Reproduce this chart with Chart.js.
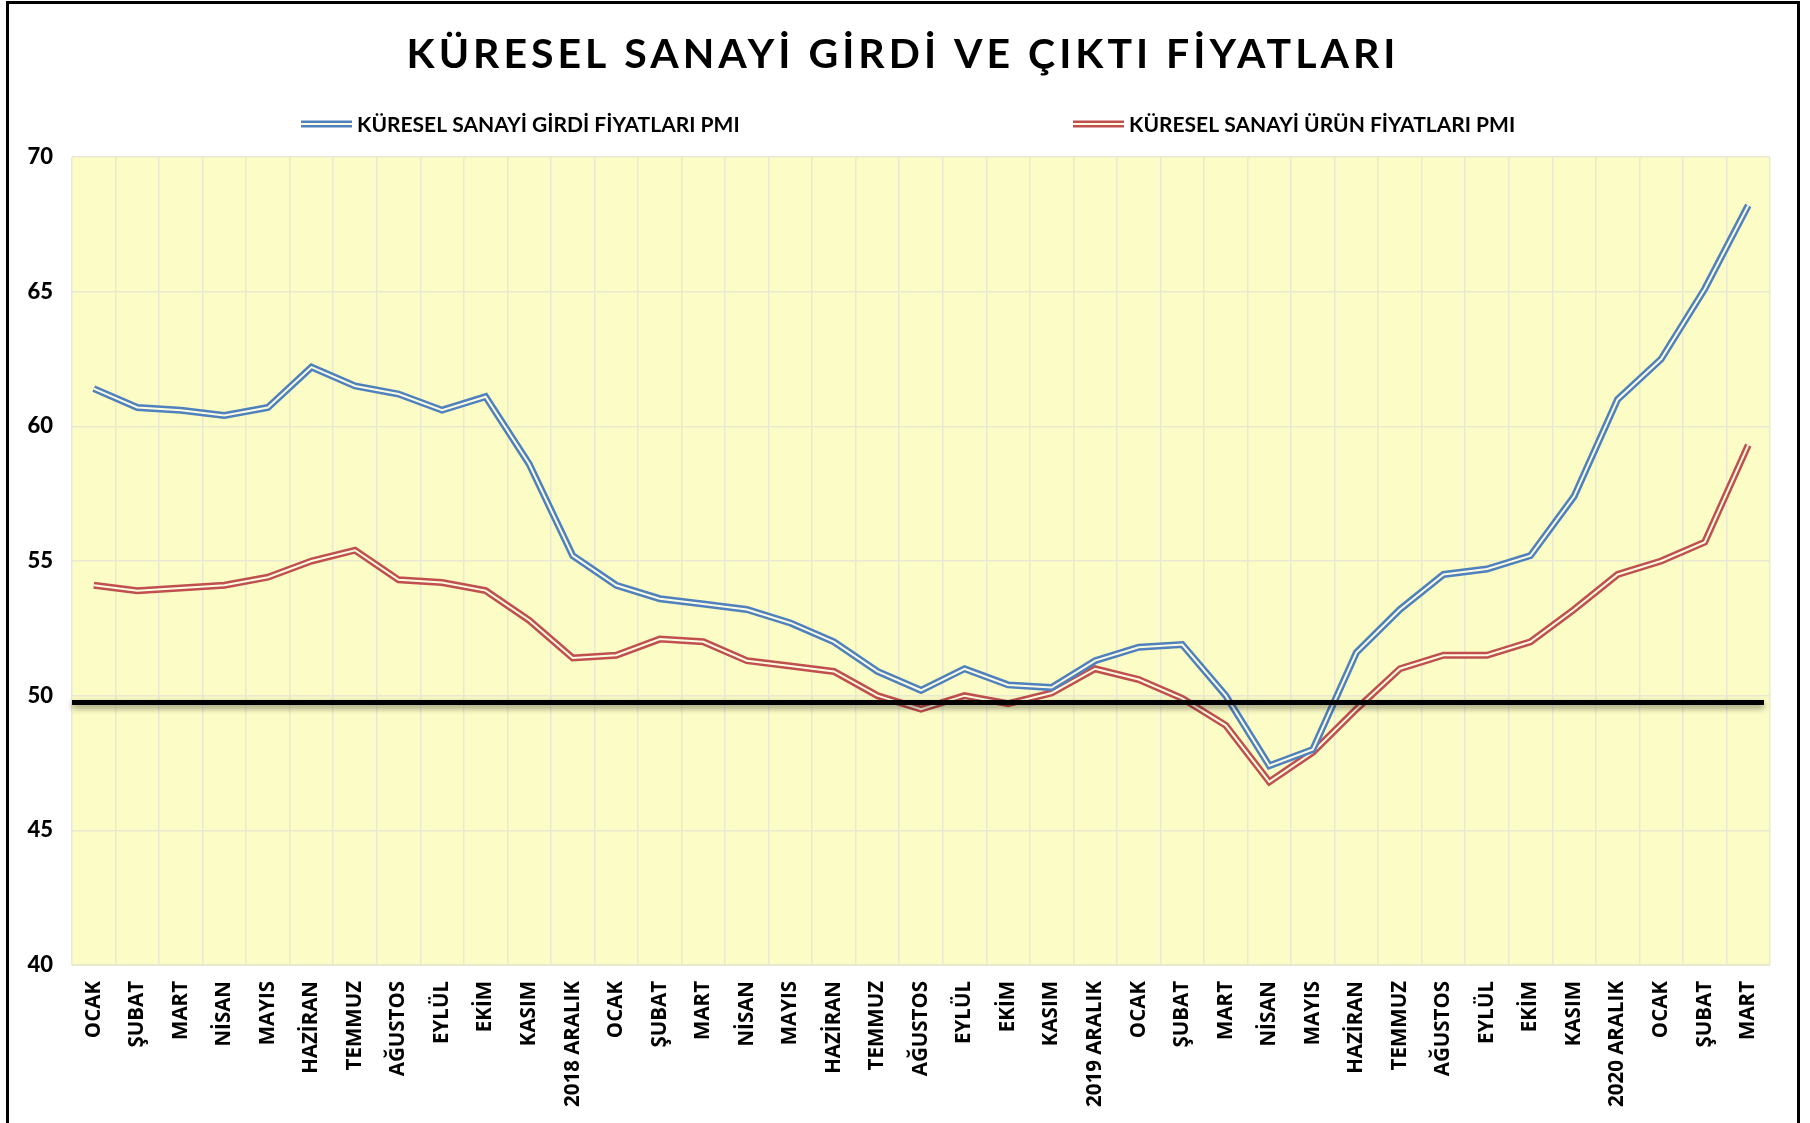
<!DOCTYPE html>
<html>
<head>
<meta charset="utf-8">
<script src="https://cdn.jsdelivr.net/npm/chart.js@4.4.1/dist/chart.umd.min.js"></script>
<style>
    body { margin: 0; background: #fff; }
    #wrap { position: absolute; left: 0; top: 0; width: 1810px; height: 1123px; }
    #frame { position: absolute; left: 6px; top: 1px; width: 1794px; height: 1140px; border: 3px solid #000; box-sizing: border-box; pointer-events: none; }
</style>
</head>
<body>
<div id="wrap"><canvas id="myChart" width="1810" height="1123"></canvas></div>
<div id="frame"></div>

<script>
// aylar (2018 ocak -> 2021 mart)
const months = ['OCAK', 'ŞUBAT', 'MART', 'NİSAN', 'MAYIS', 'HAZİRAN', 'TEMMUZ', 'AĞUSTOS', 'EYLÜL', 'EKİM', 'KASIM', '2018 ARALIK',
    'OCAK', 'ŞUBAT', 'MART', 'NİSAN', 'MAYIS', 'HAZİRAN', 'TEMMUZ', 'AĞUSTOS', 'EYLÜL', 'EKİM', 'KASIM', '2019 ARALIK',
    'OCAK', 'ŞUBAT', 'MART', 'NİSAN', 'MAYIS', 'HAZİRAN', 'TEMMUZ', 'AĞUSTOS', 'EYLÜL', 'EKİM', 'KASIM', '2020 ARALIK',
    'OCAK', 'ŞUBAT', 'MART'];

const girdiPMI = [61.4, 60.7, 60.6, 60.4, 60.7, 62.2, 61.5, 61.2, 60.6, 61.1, 58.6, 55.2,
    54.1, 53.6, 53.4, 53.2, 52.7, 52.0, 50.9, 50.2, 51.0, 50.4, 50.3, 51.3,
    51.8, 51.9, 50.0, 47.4, 48.0, 51.6, 53.2, 54.5, 54.7, 55.2, 57.4, 61.0,
    62.5, 65.1, 68.2];

const urunPMI = [54.1, 53.9, 54.0, 54.1, 54.4, 55.0, 55.4, 54.3, 54.2, 53.9, 52.8, 51.4,
    51.5, 52.1, 52.0, 51.3, 51.1, 50.9, 50.0, 49.5, 50.0, 49.7, 50.1, 51.0,
    50.6, 49.9, 48.9, 46.8, 47.9, 49.5, 51.0, 51.5, 51.5, 52.0, 53.2, 54.5,
    55.0, 55.7, 59.3];

const yTicks = [40, 45, 50, 55, 60, 65, 70];
const esikDegeri = 49.75; // siyah kalin cizgi

const titleText = 'KÜRESEL SANAYİ GİRDİ VE ÇIKTI FİYATLARI';
const girdiLabel = 'KÜRESEL SANAYİ GİRDİ FİYATLARI PMI';
const urunLabel = 'KÜRESEL SANAYİ ÜRÜN FİYATLARI PMI';

const BLUE = '#4F81BD';
const RED = '#C0504D';
const GAP = '#FDFDE4';
const PLOT_BG = '#FCFCC6';
const GRID = '#E9E9CF';

var bgPlugin = {
    id: 'plotBg',
    beforeDraw: function (chart) {
        const a = chart.chartArea;
        const ctx = chart.ctx;
        ctx.save();
        ctx.fillStyle = PLOT_BG;
        ctx.fillRect(a.left, a.top, a.right - a.left, a.bottom - a.top);
        ctx.restore();
    }
};

var esikPlugin = {
    id: 'esik',
    afterDatasetsDraw: function (chart) {
        const a = chart.chartArea;
        const ctx = chart.ctx;
        const y = chart.scales.y.getPixelForValue(esikDegeri);
        ctx.save();
        ctx.strokeStyle = '#000';
        ctx.lineWidth = 5;
        ctx.shadowColor = 'rgba(0,0,0,0.45)';
        ctx.shadowBlur = 6;
        ctx.shadowOffsetY = 3;
        ctx.beginPath();
        ctx.moveTo(a.left, y);
        ctx.lineTo(a.right - 6, y);
        ctx.stroke();
        ctx.restore();
    }
};

var headerPlugin = {
    id: 'header',
    afterDraw: function (chart) {
        const ctx = chart.ctx;
        ctx.save();
        // baslik
        ctx.fillStyle = '#000';
        ctx.font = 'bold 41px Lato';
        ctx.letterSpacing = '4px';
        ctx.textAlign = 'center';
        ctx.textBaseline = 'middle';
        ctx.fillText(titleText, 903, 55);
        ctx.letterSpacing = '0px';

        // legend (iki oge birbirinden uzak, chart.js legend'i bunu yapamiyor)
        const items = [
            { x: 301, label: girdiLabel, color: BLUE },
            { x: 1073, label: urunLabel, color: RED }
        ];
        ctx.font = 'bold 21px Lato';
        ctx.textAlign = 'left';
        items.forEach(function (it) {
            const y = 124;
            ctx.lineCap = 'butt';
            ctx.strokeStyle = it.color;
            ctx.lineWidth = 7;
            ctx.beginPath();
            ctx.moveTo(it.x, y);
            ctx.lineTo(it.x + 51, y);
            ctx.stroke();
            ctx.strokeStyle = GAP;
            ctx.lineWidth = 2;
            ctx.beginPath();
            ctx.moveTo(it.x, y);
            ctx.lineTo(it.x + 51, y);
            ctx.stroke();
            ctx.fillStyle = '#000';
            ctx.fillText(it.label, it.x + 56, y + 1);
        });
        ctx.restore();
    }
};

var ctx = document.getElementById('myChart').getContext('2d');
var chart = new Chart(ctx, {
    type: 'line',
    data: {
        labels: months,
        datasets: [
            {
                label: girdiLabel,
                data: girdiPMI,
                borderColor: BLUE,
                borderWidth: 7,
                pointRadius: 0,
                tension: 0,
                order: 2
            },
            {
                label: girdiLabel + ' ic',
                data: girdiPMI,
                borderColor: GAP,
                borderWidth: 2,
                pointRadius: 0,
                tension: 0,
                order: 1
            },
            {
                label: urunLabel,
                data: urunPMI,
                borderColor: RED,
                borderWidth: 7,
                pointRadius: 0,
                tension: 0,
                order: 4
            },
            {
                label: urunLabel + ' ic',
                data: urunPMI,
                borderColor: GAP,
                borderWidth: 2,
                pointRadius: 0,
                tension: 0,
                order: 3
            }
        ]
    },
    options: {
        responsive: false,
        animation: false,
        devicePixelRatio: 1,
        layout: {
            padding: { top: 157, right: 40, bottom: 0, left: 0 }
        },
        plugins: {
            legend: { display: false },
            tooltip: { enabled: false }
        },
        scales: {
            x: {
                offset: true,
                grid: { offset: true, color: GRID, lineWidth: 1.5, drawTicks: false },
                border: { color: GRID },
                ticks: {
                    autoSkip: false,
                    minRotation: 90,
                    maxRotation: 90,
                    padding: 16,
                    color: '#000',
                    font: { family: 'Open Sans', weight: 'bold', size: 20.5 }
                },
                afterFit: function (scale) { scale.height = 158; }
            },
            y: {
                min: 40,
                max: 70,
                afterBuildTicks: function (scale) {
                    scale.ticks = yTicks.map(function (v) { return { value: v }; });
                },
                grid: { color: GRID, lineWidth: 1.5, drawTicks: false },
                border: { display: false },
                ticks: {
                    padding: 19,
                    color: '#000',
                    font: { family: 'Lato', weight: '900', size: 22 }
                },
                afterFit: function (scale) { scale.width = 72; }
            }
        }
    },
    plugins: [bgPlugin, esikPlugin, headerPlugin]
});
</script>
</body>
</html>
